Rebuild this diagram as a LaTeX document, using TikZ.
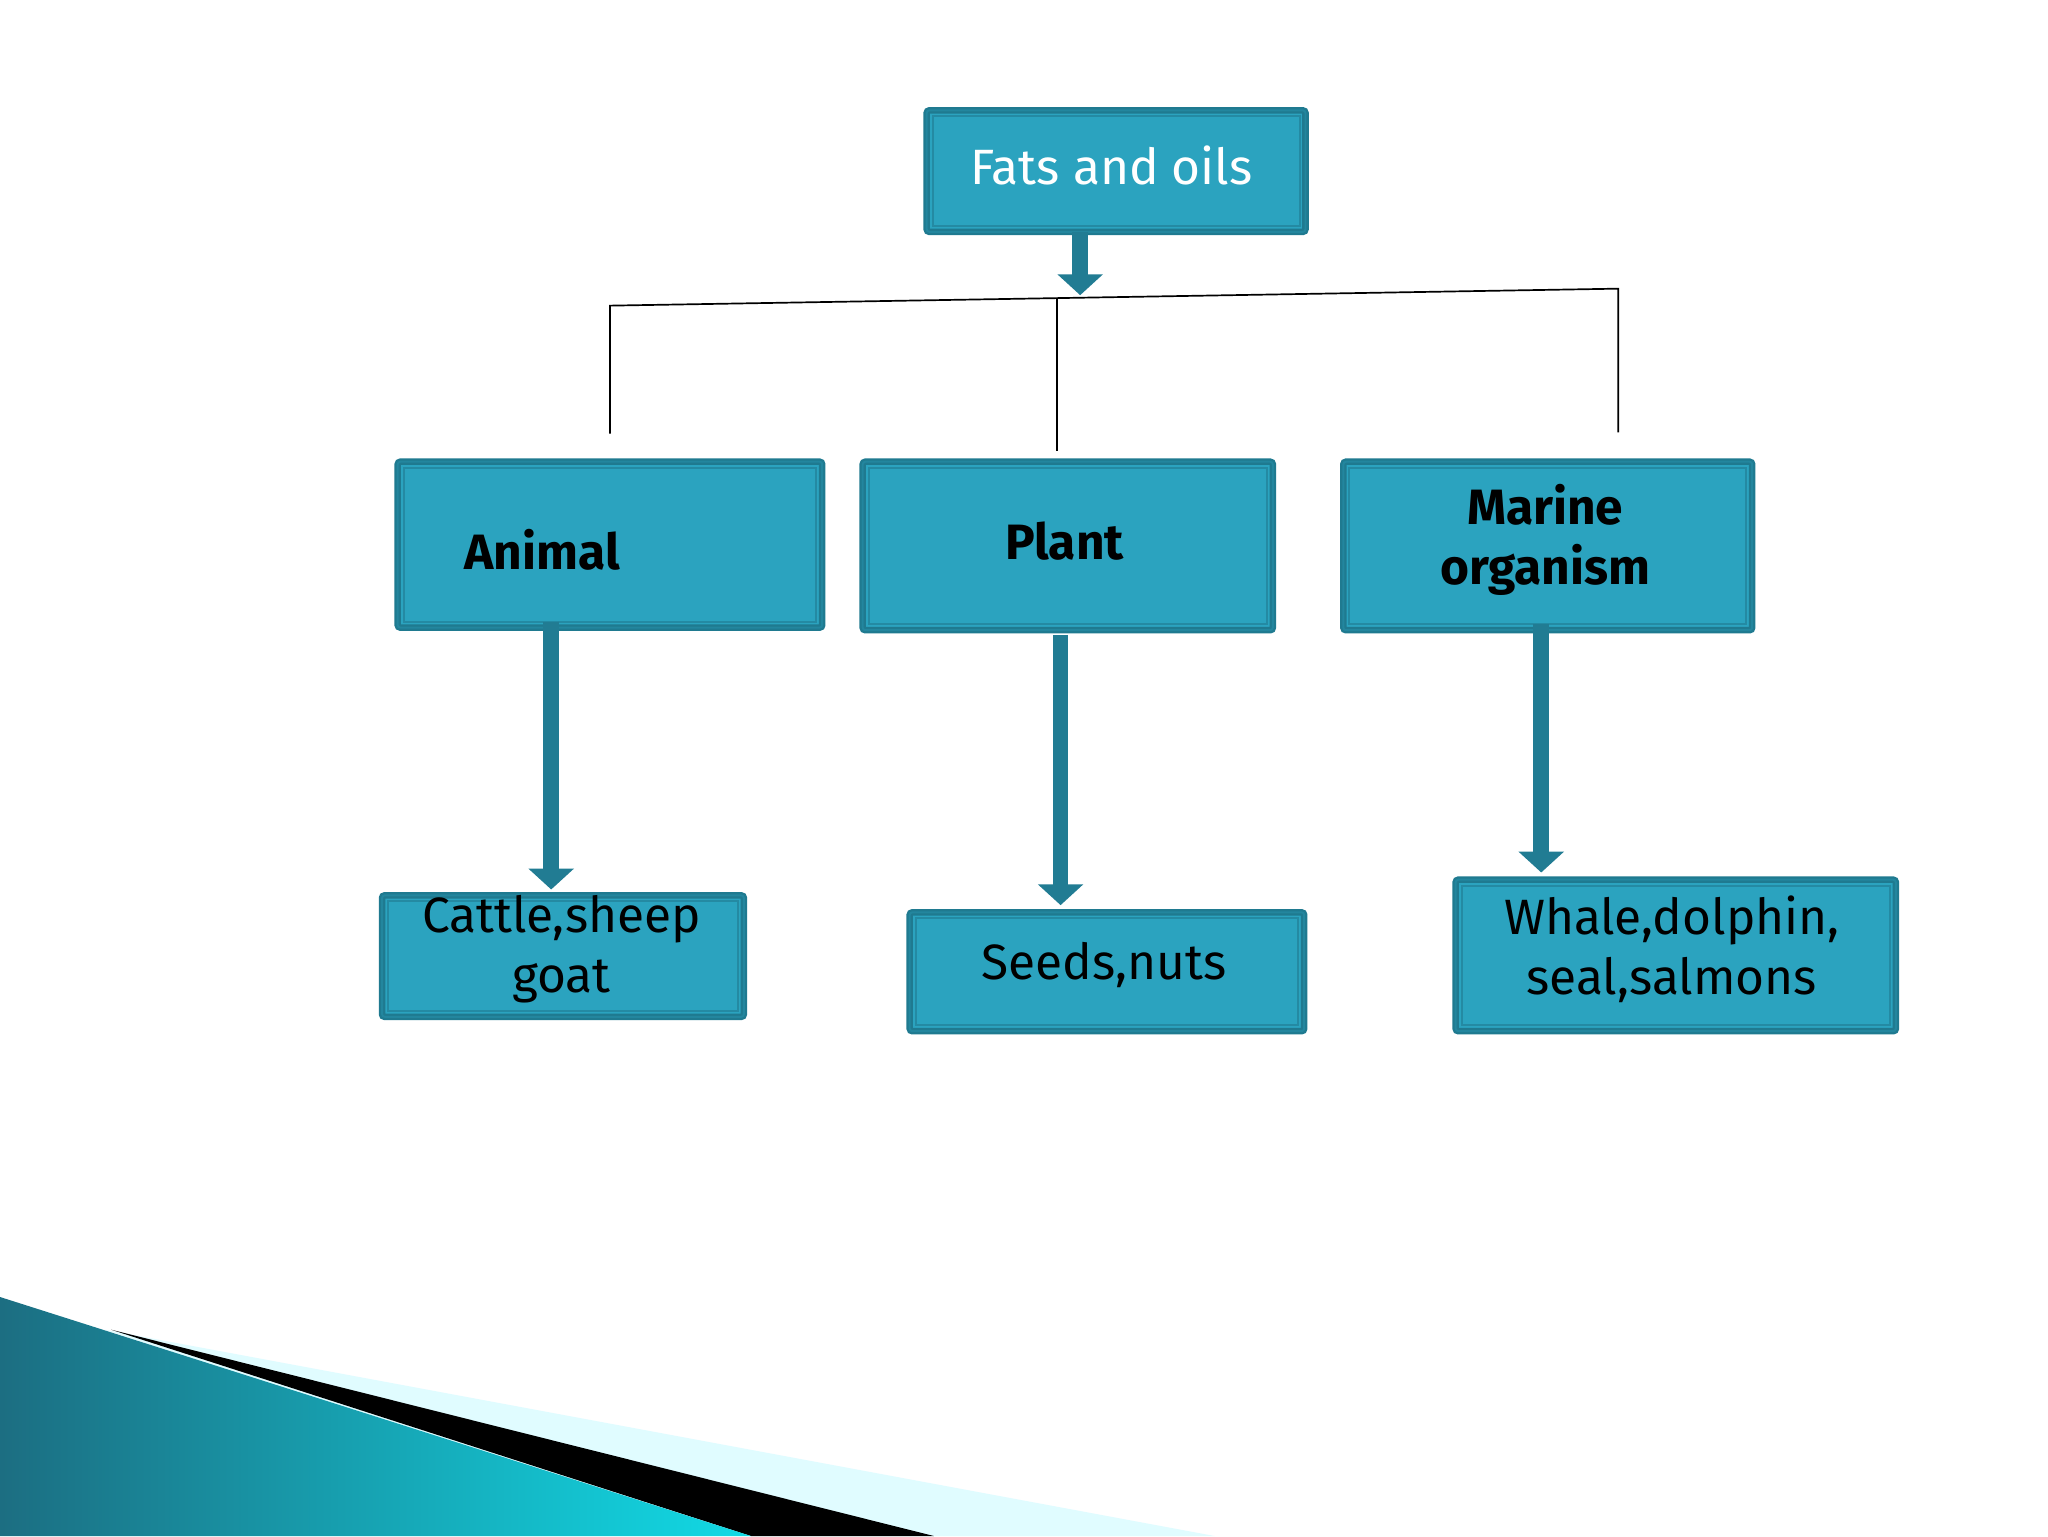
\documentclass[tikz,border=0pt]{standalone}
\usepackage{fontspec}
\setmainfont{Fira Sans}
\usetikzlibrary{arrows.meta}
\definecolor{boxfill}{HTML}{2BA3BF}
\definecolor{boxline}{HTML}{1F7A90}
\definecolor{arrowc}{HTML}{217C93}
\begin{document}
\begin{tikzpicture}[x=1pt,y=-1pt,
  cbox/.style={draw=boxline,line width=5pt,fill=boxfill,rounded corners=2pt,inner sep=0pt,
     font=\fontsize{38}{40}\selectfont,align=center,
     postaction={draw=boxline!70!boxfill,line width=1.5pt,sharp corners,
       path picture={}}},
  inner/.style={draw=boxline!60!boxfill,line width=1.5pt},
  fat/.style={draw=arrowc,line width=12pt,-{Triangle[width=34pt,length=16pt]}},
  thin/.style={draw=black,line width=1.3pt}]
\useasboundingbox (0,0) rectangle (1568,1176);
\fill[white] (0,0) rectangle (1568,1176);
% bottom decoration
\fill[blue!10!cyan!12!white] (80,1018) -- (930,1176) -- (560,1176) -- cycle;
\fill[black] (85,1018) -- (715,1176) -- (575,1176) -- cycle;
\shade[left color=boxline!90!black,right color=cyan!60!boxfill] (0,993) -- (575,1176) -- (0,1176) -- cycle;
% boxes
\newcommand{\mybox}[6]{%
  \node[cbox,minimum width=#4-#2,minimum height=#5-#3,anchor=north west] (#1) at (#2,#3) {};
  \draw[inner] ([xshift=7pt,yshift=-7pt]#1.north west) rectangle ([xshift=-7pt,yshift=7pt]#1.south east);}
\mybox{top}{707}{82}{997}{175}{}
\mybox{animal}{302}{351}{627}{478}{}
\mybox{plant}{658}{351}{972}{480}{}
\mybox{marine}{1026}{351}{1339}{480}{}
\mybox{cattle}{290}{683}{567}{776}{}
\mybox{seeds}{694}{696}{996}{787}{}
\mybox{whale}{1112}{671}{1449}{787}{}
\node[text=white,font=\fontsize{38}{40}\selectfont] (ttop) at (851,127) {Fats and oils};
\node[font=\bfseries\fontsize{38}{40}\selectfont] (tanimal) at (415,421) {Animal};
\node[font=\bfseries\fontsize{38}{40}\selectfont] (tplant) at (815,414) {Plant};
\node[font=\bfseries\fontsize{38}{46}\selectfont,align=center] (tmarine) at (1183,413) {Marine\\organism};
\node[font=\fontsize{38}{46}\selectfont,align=center] (tcattle) at (430,727) {Cattle,sheep\\goat};
\node[font=\fontsize{38}{46}\selectfont] (tseeds) at (845,739) {Seeds,nuts};
\node[font=\fontsize{38}{46}\selectfont,align=center] (twhale) at (1280,727) {Whale,dolphin,\\seal,salmons};
% connectors
\coordinate (hub) at (827,226);
\coordinate (hl) at (467,234);
\coordinate (hr) at (1239,221);
\coordinate (hm) at (809,228);
\coordinate (la) at (467,332);
\coordinate (lp) at (809,345);
\coordinate (lm) at (1239,331);
\draw[thin] (la) -- (hl) -- (hr) -- (lm);
\draw[thin] (hm) -- (lp);
\draw[fat] (827,178) -- (hub);
\draw[fat] (422,476) -- (422,681);
\draw[fat] (812,486) -- (812,693);
\draw[fat] (1180,478) -- (1180,668);
\end{tikzpicture}
\end{document}
